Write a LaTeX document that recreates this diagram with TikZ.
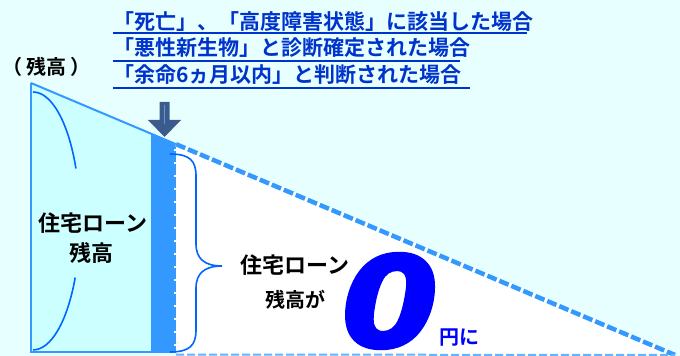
\documentclass[tikz,border=0pt]{standalone}
\usepackage{fontspec}
\setmainfont{Noto Sans CJK JP}
\newfontfamily\jpb{Noto Sans CJK JP Bold}
\newfontfamily\zerofont{DejaVu Sans}[FakeBold=2.5]
\definecolor{bgc}{HTML}{E8FFFF}
\definecolor{rectc}{HTML}{CCFFFF}
\definecolor{lineb}{HTML}{3399FF}
\definecolor{lightb}{HTML}{66B2FF}
\definecolor{arcb}{HTML}{0066FF}
\definecolor{topb}{HTML}{0033CC}
\definecolor{arrowc}{HTML}{3B5B8C}
\definecolor{arrowl}{HTML}{5B9BD5}
\begin{document}
\begin{tikzpicture}[x=1pt,y=1pt,
  jp/.style={inner sep=0pt},
  arcline/.style={draw=arcb, line width=1.6pt},
  uline/.style={draw=topb, line width=2pt}]
\fill[bgc] (0,0) rectangle (680,356);
\useasboundingbox (0,0) rectangle (680,356);
\coordinate (A) at (31,273);
\coordinate (B) at (675,1);
\coordinate (P) at (151,222.3);
\coordinate (Q) at (176,211.8);
% left rectangle
\fill[rectc] (A) -- (P) -- (151,4) -- (31,4) -- cycle;
% stripe
\fill[lineb] (P) -- (Q) -- (176,3) -- (151,3) -- cycle;
% white triangle
\fill[white] (Q) -- (B) -- (176,1) -- cycle;
% borders
\draw[lineb, line width=1.8pt] (A) -- (31,4) -- (151,4);
\draw[lineb, line width=2pt] (A) -- (Q);
\draw[white, line width=4.5pt] (Q) -- (B);
\draw[lineb, line width=4.5pt, dash pattern=on 10pt off 3pt] (Q) -- (B);
\draw[lightb, line width=2pt, dash pattern=on 8pt off 3pt] (176,1.5) -- (B);
\draw[white, line width=1.6pt, dash pattern=on 2pt off 11pt] (175,207) -- (175,5);
% arc in left rectangle
\draw[arcline] (33,264) arc[start angle=90, end angle=24, x radius=47, y radius=129];
\draw[arcline] (75.2,78.5) arc[start angle=-26, end angle=-90, x radius=47, y radius=129];
% brace
\draw[arcline] (170,202) .. controls (190,202) and (196,195) .. (196,180) -- (196,112)
  .. controls (196,97) and (205,90) .. (222,90)
  .. controls (205,90) and (196,83) .. (196,68) -- (196,26)
  .. controls (196,11) and (190,4) .. (170,4);
% arrow
\fill[arrowc] (159.5,254) -- (169.5,254) -- (169.5,236) -- (181,236) -- (164.5,219) -- (148,236) -- (159.5,236) -- cycle;
\draw[arrowl, line width=1.5pt] (164.5,251) -- (164.5,232);
% texts
\node[jp, anchor=center, font=\jpb\fontsize{20}{24}\selectfont] (zan) at (46,289) {（\hspace{4pt}残高\hspace{4pt}）};
\node[jp, anchor=base west, text=topb, font=\jpb\fontsize{21}{25}\selectfont] (l1) at (113,326) {「死亡」、「高度障害状態」に該当した場合};
\node[jp, anchor=base west, text=topb, font=\jpb\fontsize{21}{25}\selectfont] (l2) at (113,300) {「悪性新生物」と診断確定された場合};
\node[jp, anchor=base west, text=topb, font=\jpb\fontsize{21}{25}\selectfont] (l3) at (113,273) {「余命6ヵ月以内」と判断された場合};
\draw[uline] (113,323) -- (527,323);
\draw[uline] (113,295) -- (460,295);
\draw[uline] (113,268) -- (470,268);
\node[jp, font=\jpb\fontsize{22}{26}\selectfont] (ll1) at (93,133) {住宅ローン};
\node[jp, font=\jpb\fontsize{22}{26}\selectfont] (ll2) at (91,103) {残高};
\node[jp, font=\jpb\fontsize{22}{26}\selectfont] (rl1) at (295,91) {住宅ローン};
\node[jp, font=\jpb\fontsize{20}{24}\selectfont] (rl2) at (295,56) {残高が};
\node[inner sep=0pt, text=blue, font=\zerofont\bfseries\itshape\fontsize{126}{130}\selectfont] (zero) at (390,55) {\scalebox{1.1}[1]{0}};
\node[jp, text=blue, font=\jpb\fontsize{20}{24}\selectfont] (en) at (459,18) {円に};
\end{tikzpicture}
\end{document}
